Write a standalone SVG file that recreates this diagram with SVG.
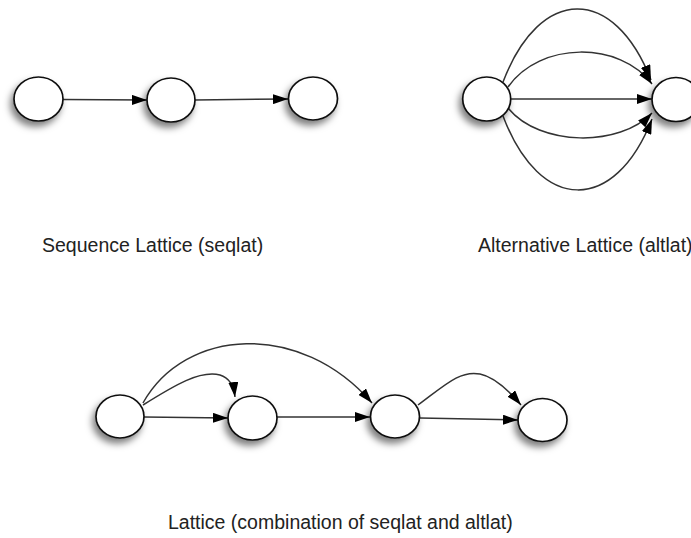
<svg xmlns="http://www.w3.org/2000/svg" width="691" height="538" viewBox="0 0 691 538">
<style>
.node{fill:#fff;stroke:#111;stroke-width:1.7;filter:url(#sh)}
.edge{fill:none;stroke:#333;stroke-width:1.5;marker-end:url(#arr)}
.lbl{font-family:"Liberation Sans",Arial,sans-serif;font-size:19.5px;fill:#222}
</style>
<defs>
<filter id="sh" x="-50%" y="-50%" width="200%" height="200%">
<feDropShadow dx="-3" dy="5" stdDeviation="3.5" flood-color="#000" flood-opacity="0.5"/>
</filter>
<marker id="arr" markerUnits="userSpaceOnUse" markerWidth="16" markerHeight="10" refX="15" refY="5" orient="auto">
<path d="M0,0 L15,5 L0,10 Z" fill="#000"/>
</marker>
</defs>
<g id="connectors">
<path class="edge" d="M63,99.5 L147,100"/>
<path class="edge" d="M195,100 L288,99"/>
<path class="edge" d="M503,82 C540,-15 614,-15 651,80"/>
<path class="edge" d="M508,87 C540,41 620,41 652,84"/>
<path class="edge" d="M511,99 L652,99"/>
<path class="edge" d="M508,108 C540,147 620,147 652,113"/>
<path class="edge" d="M503,116 C540,214 615,214 652,119"/>
<path class="edge" d="M144,417 L228,418"/>
<path class="edge" d="M143,405 C175,385 200,370 220,375 C230,378 234,388 235,397"/>
<path class="edge" d="M143,403 C185,328 300,320 372,403"/>
<path class="edge" d="M277,417 L370,417"/>
<path class="edge" d="M420,418 L518,420"/>
<path class="edge" d="M418,405 C445,385 460,370 480,374 C495,377 510,392 521,405"/>
</g>
<g id="n1"><ellipse class="node" cx="38.5" cy="99" rx="24.5" ry="22"/></g>
<g id="n2"><ellipse class="node" cx="171" cy="100" rx="24" ry="22"/></g>
<g id="n3"><ellipse class="node" cx="313" cy="98.5" rx="24.5" ry="21.5"/></g>
<g id="a1"><ellipse class="node" cx="486.7" cy="99" rx="24" ry="22"/></g>
<g id="a2"><ellipse class="node" cx="676" cy="99.5" rx="24" ry="22"/></g>
<g id="b1"><ellipse class="node" cx="120" cy="416.5" rx="24" ry="21.5"/></g>
<g id="b2"><ellipse class="node" cx="252.5" cy="418" rx="24.5" ry="22"/></g>
<g id="b3"><ellipse class="node" cx="395" cy="416.5" rx="24.5" ry="21.5"/></g>
<g id="b4"><ellipse class="node" cx="542.5" cy="420" rx="24.5" ry="21.5"/></g>
<g id="labels">
<text class="lbl" x="42" y="252">Sequence Lattice (seqlat)</text>
<text class="lbl" x="478" y="252">Alternative Lattice (altlat)</text>
<text class="lbl" x="168" y="529">Lattice (combination of seqlat and altlat)</text>
</g>
</svg>
